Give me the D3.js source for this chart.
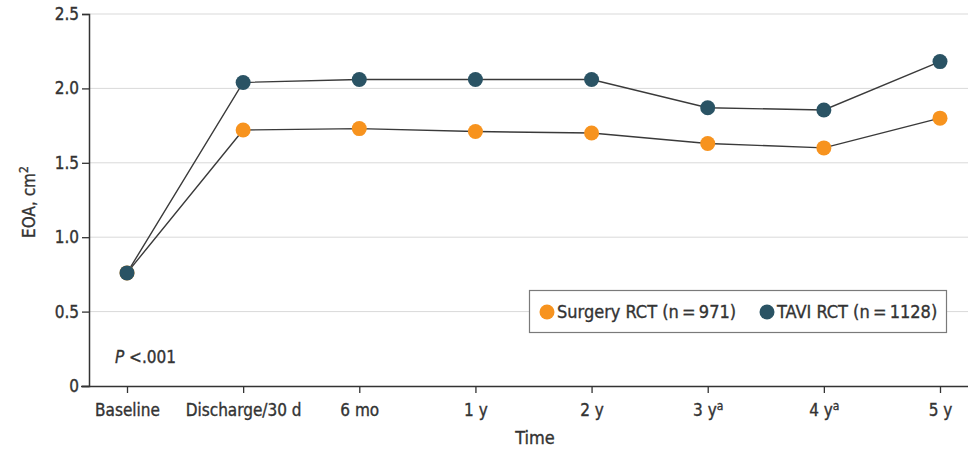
<!DOCTYPE html>
<html>
<head>
<meta charset="utf-8">
<script src="https://cdn.jsdelivr.net/npm/d3@7"></script>
<style>
  html, body { margin: 0; padding: 0; background: #fff; }
  svg { display: block; font-family: "DejaVu Sans Condensed", "DejaVu Sans", sans-serif; }
  .lbl { fill: #333; stroke: #333; stroke-width: 0.35px; paint-order: stroke; }
</style>
</head>
<body>
<svg id="chart" width="968" height="452"></svg>
<script>
// Time points and labels (superscript suffix kept separately)
const timePoints = ["Baseline", "Discharge/30 d", "6 mo", "1 y", "2 y", "3 y", "4 y", "5 y"];
const timeSuper = ["", "", "", "", "", "a", "a", ""];

// Effective orifice area (cm²) by group
const surgeryEOA = [0.76, 1.72, 1.73, 1.71, 1.70, 1.63, 1.60, 1.80];
const taviEOA    = [0.76, 2.04, 2.06, 2.06, 2.06, 1.87, 1.855, 2.18];

const yTicks = [0, 0.5, 1.0, 1.5, 2.0, 2.5];
const yTickLabels = ["0", "0.5", "1.0", "1.5", "2.0", "2.5"];

const seriesNames = ["Surgery RCT (n\u2009=\u2009971)", "TAVI RCT (n\u2009=\u20091128)"];
const seriesColors = ["#f7931e", "#2a5364"];

(function draw() {
  const svg = d3.select("#chart");
  const mLeft = 89, mRight = 968, mTop = 14, mBottom = 386;

  const x = d3.scalePoint().domain(timePoints).range([127, 940]);
  const y = d3.scaleLinear().domain([0, 2.5]).range([mBottom, mTop]);

  // Gridlines
  svg.append("g").selectAll("line").data(yTicks.filter(d => d > 0)).join("line")
    .attr("x1", mLeft).attr("x2", mRight)
    .attr("y1", d => y(d)).attr("y2", d => y(d))
    .attr("stroke", "#d9d9d9").attr("stroke-width", 1);

  // Y axis
  const yAxis = d3.axisLeft(y).tickValues(yTicks)
    .tickFormat((d, i) => yTickLabels[i]).tickSize(7).tickPadding(3);
  const gy = svg.append("g").attr("transform", `translate(${mLeft},0)`).call(yAxis);
  gy.select(".domain").attr("stroke", "#333").attr("stroke-width", 1.5);
  gy.selectAll(".tick line").attr("stroke", "#333").attr("stroke-width", 1.3);
  gy.selectAll(".tick text").attr("class", "lbl").attr("font-size", 17)
    .attr("font-family", "'DejaVu Sans Condensed', 'DejaVu Sans', sans-serif");

  // X axis
  const xAxis = d3.axisBottom(x).tickSize(7).tickPadding(3).tickFormat(() => "");
  const gx = svg.append("g").attr("transform", `translate(0,${mBottom})`).call(xAxis);
  gx.select(".domain").attr("d", `M${mLeft - 8},0.5H${mRight}`).attr("stroke", "#333").attr("stroke-width", 1.5);
  gx.selectAll(".tick line").attr("stroke", "#333").attr("stroke-width", 1.3);
  gx.selectAll(".tick text").each(function(d, i) {
    const t = d3.select(this).attr("class", "lbl").attr("font-size", 17).attr("dy", "1.2em")
      .attr("font-family", "'DejaVu Sans Condensed', 'DejaVu Sans', sans-serif");
    t.append("tspan").text(d);
    if (timeSuper[i]) {
      t.append("tspan").text(timeSuper[i]).attr("font-size", 12).attr("dy", "-0.5em");
    }
  });

  // Axis titles
  svg.append("text").attr("class", "lbl")
    .attr("transform", `translate(35,202) rotate(-90)`)
    .attr("text-anchor", "middle").attr("font-size", 17)
    .html("EOA, cm<tspan font-size='12' dy='-0.55em'>2</tspan>");
  svg.append("text").attr("class", "lbl").attr("x", 535).attr("y", 444).attr("text-anchor", "middle")
    .attr("font-size", 18).text("Time");

  // P value annotation
  const pText = svg.append("text").attr("class", "lbl").attr("x", 115).attr("y", 363).attr("font-size", 17);
  pText.append("tspan").attr("font-style", "italic").text("P");
  pText.append("tspan").text(" <.001");

  // Lines and dots
  const line = d3.line().x((d, i) => x(timePoints[i])).y(d => y(d));
  const series = [surgeryEOA, taviEOA];
  series.forEach(vals => {
    svg.append("path").datum(vals).attr("d", line)
      .attr("fill", "none").attr("stroke", "#3a3a3a").attr("stroke-width", 1.4);
  });
  series.forEach((vals, s) => {
    svg.append("g").selectAll("circle").data(vals).join("circle")
      .attr("cx", (d, i) => x(timePoints[i])).attr("cy", d => y(d))
      .attr("r", 7.5).attr("fill", seriesColors[s]);
  });

  // Legend
  const lg = svg.append("g").attr("transform", "translate(529,290)");
  lg.append("rect").attr("x", 0.5).attr("y", 0.5).attr("width", 417).attr("height", 42)
    .attr("fill", "#fff").attr("stroke", "#7a7a7a").attr("stroke-width", 1.2);
  const legendItems = [{ cx: 18, tx: 28 }, { cx: 238, tx: 248 }];
  legendItems.forEach((it, i) => {
    lg.append("circle").attr("cx", it.cx).attr("cy", 22).attr("r", 7.5).attr("fill", seriesColors[i]);
    lg.append("text").attr("class", "lbl").attr("x", it.tx).attr("y", 28).attr("font-size", 18)
      .text(seriesNames[i]);
  });
})();
</script>
</body>
</html>
